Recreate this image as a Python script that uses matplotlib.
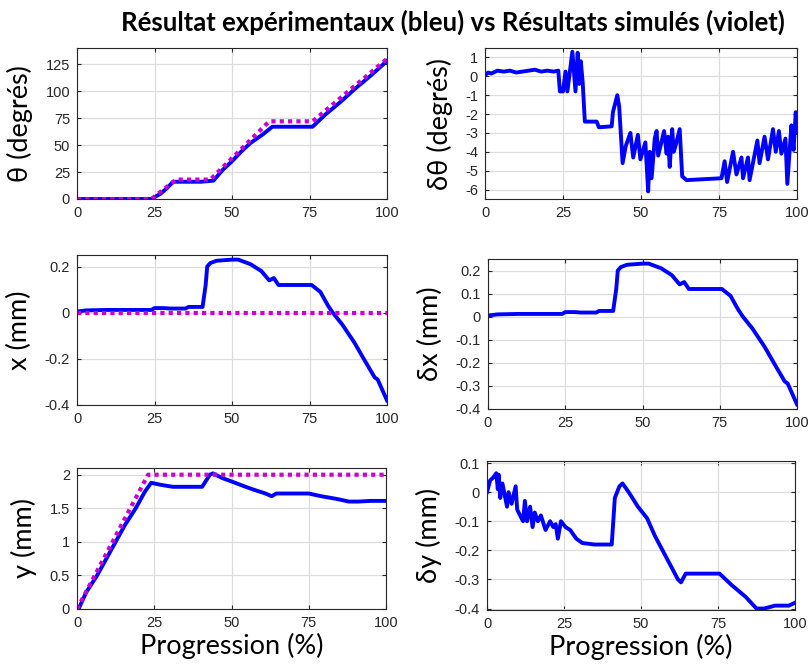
import matplotlib.pyplot as plt

W, H = 809, 666

# --- data ------------------------------------------------------------------
theta_sim_x = [0, 24, 32, 43, 62, 76, 100]
theta_sim_y = [0, 0, 18, 18, 72, 72, 130]
theta_exp_x = [0, 24, 27, 29, 31, 40, 44, 47, 50, 53, 56, 60, 63, 76, 80, 85, 90, 95, 100]
theta_exp_y = [0, 0, 5, 10, 16, 16, 17, 27, 35, 44, 52, 60, 67, 67, 78, 90, 103, 115, 128]

dtheta_x = [0, 1, 2, 4, 6, 8, 10, 12, 14, 16, 18, 20, 22, 23.5, 24, 25, 25.8, 26.4, 28,
            29, 29.7, 30.2, 30.7, 31.3, 32, 35.8, 36.5, 40.6, 41, 42.4, 43, 44.1, 45.1,
            46.6, 47.5, 49, 49.8, 51.4, 52.3, 52.8, 53.4, 54.4, 55, 55.5, 57.4, 58.2,
            58.7, 59.2, 60, 60.5, 61.2, 62.4, 63.2, 64.6, 75.8, 76.8, 77.6, 79.5, 80.6,
            82.2, 82.7, 84.3, 84.8, 87.3, 88, 89.6, 90.7, 92.3, 93.2, 94.2, 95, 96.3,
            96.9, 98.2, 98.9, 99.6, 100]
dtheta_y = [0.05, 0.2, 0.15, 0.3, 0.25, 0.3, 0.2, 0.25, 0.3, 0.35, 0.25, 0.3, 0.25, 0.3,
            -0.8, -0.8, 0.25, -0.8, 1.3, -0.8, 1.25, -0.4, 0.8, -0.3, -2.4, -2.4, -2.7,
            -2.65, -1.9, -1.0, -1.6, -4.6, -3.7, -3.0, -4.3, -3.1, -4.4, -3.5, -6.1, -4.0,
            -5.4, -3.3, -2.9, -4.2, -2.9, -4.1, -3.2, -4.8, -2.8, -4.0, -3.6, -2.8, -5.3,
            -5.5, -5.4, -4.5, -5.6, -4.0, -5.2, -4.3, -5.4, -4.3, -5.5, -3.4, -4.6, -3.2,
            -4.4, -2.8, -4.0, -2.9, -4.1, -3.3, -5.7, -2.6, -3.9, -1.9, -3.0]

x_sim_x = [0, 100]
x_sim_y = [0, 0]
x_exp_x = [0, 3, 10, 24, 25, 28, 30, 35, 36, 40.5, 41.5, 42, 43, 45, 50, 52, 56, 59.5, 62,
           63.5, 65, 75.7, 78.5, 81, 82.5, 85.5, 89.5, 92.5, 96, 97, 99, 100]
x_exp_y = [0.005, 0.01, 0.012, 0.012, 0.02, 0.02, 0.018, 0.018, 0.025, 0.025, 0.12, 0.2,
           0.215, 0.225, 0.23, 0.23, 0.21, 0.18, 0.14, 0.15, 0.12, 0.12, 0.09, 0.03, 0.0,
           -0.05, -0.13, -0.2, -0.28, -0.29, -0.35, -0.38]

y_sim_x = [0, 23, 100]
y_sim_y = [0, 2, 2]
y_exp_x = [0.5, 3, 6.5, 9.5, 12.5, 15.5, 19, 22, 24, 27, 31, 40.5, 43, 44, 47, 50, 54, 57,
           61, 63, 64.5, 75, 79, 84, 88, 91, 95, 100]
y_exp_y = [0, 0.25, 0.5, 0.75, 1.0, 1.25, 1.5, 1.75, 1.88, 1.85, 1.82, 1.82, 2.0, 2.02,
           1.95, 1.9, 1.83, 1.78, 1.72, 1.68, 1.72, 1.72, 1.68, 1.64, 1.6, 1.6, 1.61, 1.61]

dy_x = [0, 1, 2, 3, 3.5, 3.8, 4.3, 5, 6.5, 7, 8, 9.3, 9.8, 11.7, 12.3, 13, 14, 14.8, 15.5,
        16.5, 17.5, 19, 20.5, 21.5, 22.3, 23, 24, 25.5, 27, 29, 31, 35, 40.5, 41.5, 43,
        44, 46, 49, 52, 54.5, 57, 59.5, 62, 63, 64.5, 75.5, 79.5, 84, 87.5, 90, 93.5, 98,
        100]
dy_y = [0, 0.04, 0.05, 0.065, 0.01, 0.06, -0.02, 0.03, -0.05, 0.0, -0.04, 0.02, -0.06,
        -0.1, -0.03, -0.1, -0.05, -0.12, -0.07, -0.1, -0.08, -0.13, -0.1, -0.12, -0.11,
        -0.16, -0.1, -0.12, -0.13, -0.16, -0.175, -0.18, -0.18, -0.02, 0.02, 0.03, 0.0,
        -0.05, -0.09, -0.15, -0.2, -0.25, -0.3, -0.31, -0.28, -0.28, -0.32, -0.36, -0.4,
        -0.4, -0.39, -0.39, -0.38]

BLUE = "#0000ff"
MAGENTA = "#cc00cc"
LABEL_FONT = "Lato"
TICK_FONT = "Liberation Sans"

fig = plt.figure(figsize=(W / 100, H / 100), dpi=100)


def make_axes(l, t, r, b):
    return fig.add_axes([l / W, (H - b) / H, (r - l) / W, (b - t) / H])


def style(ax, ylabel, ylim, yticks, ytlabels=None, xlabel=None):
    ax.set_xlim(0, 100)
    ax.set_ylim(*ylim)
    ax.set_xticks([0, 25, 50, 75, 100])
    ax.set_yticks(yticks)
    if ytlabels is not None:
        ax.set_yticklabels(ytlabels)
    ax.grid(True, color="#dcdcdc", linewidth=0.9)
    ax.set_axisbelow(True)
    ax.tick_params(direction="in", length=3, width=0.8, colors="#262626",
                   labelsize=10.5, top=True, right=True, pad=5)
    for lab in ax.get_xticklabels() + ax.get_yticklabels():
        lab.set_family(TICK_FONT)
    for s in ax.spines.values():
        s.set_color("#262626")
        s.set_linewidth(0.8)
    ax.set_ylabel(ylabel, fontsize=19.5, family=LABEL_FONT, labelpad=9)
    if xlabel:
        ax.set_xlabel(xlabel, fontsize=19.5, family=LABEL_FONT, labelpad=2)


lw_exp = 2.8
lw_sim = 3.0
dots = (0, (1, 1))

ax1 = make_axes(77, 48, 387, 199)
ax1.plot(theta_exp_x, theta_exp_y, color=BLUE, lw=lw_exp)
ax1.plot(theta_sim_x, theta_sim_y, color=MAGENTA, lw=lw_sim, ls=dots)
style(ax1, "θ (degrés)", (0, 140), [0, 25, 50, 75, 100, 125])

ax2 = make_axes(485, 48, 797, 199)
ax2.plot(dtheta_x, dtheta_y, color=BLUE, lw=lw_exp)
style(ax2, "δθ (degrés)", (-6.5, 1.5), [-6, -5, -4, -3, -2, -1, 0, 1],
      ["-6", "-5", "-4", "-3", "-2", "-1", "0", "1"])

ax3 = make_axes(77, 255, 387, 405)
ax3.plot(x_exp_x, x_exp_y, color=BLUE, lw=lw_exp)
ax3.plot(x_sim_x, x_sim_y, color=MAGENTA, lw=lw_sim, ls=dots)
style(ax3, "x (mm)", (-0.4, 0.25), [-0.4, -0.2, 0, 0.2], ["-0.4", "-0.2", "0", "0.2"])

ax4 = make_axes(488, 259, 797, 409)
ax4.plot(x_exp_x, x_exp_y, color=BLUE, lw=lw_exp)
style(ax4, "δx (mm)", (-0.4, 0.25), [-0.4, -0.3, -0.2, -0.1, 0, 0.1, 0.2],
      ["-0.4", "-0.3", "-0.2", "-0.1", "0", "0.1", "0.2"])

ax5 = make_axes(77, 468, 386, 609)
ax5.plot(y_exp_x, y_exp_y, color=BLUE, lw=lw_exp)
ax5.plot(y_sim_x, y_sim_y, color=MAGENTA, lw=lw_sim, ls=dots)
style(ax5, "y (mm)", (0, 2.1), [0, 0.5, 1, 1.5, 2], ["0", "0.5", "1", "1.5", "2"],
      xlabel="Progression (%)")

ax6 = make_axes(487, 461, 795, 610)
ax6.plot(dy_x, dy_y, color=BLUE, lw=lw_exp)
style(ax6, "δy (mm)", (-0.405, 0.107), [-0.4, -0.3, -0.2, -0.1, 0, 0.1],
      ["-0.4", "-0.3", "-0.2", "-0.1", "0", "0.1"], xlabel="Progression (%)")

fig.text(0.5 + 48 / W, 1 - 22 / H, "Résultat expérimentaux (bleu) vs Résultats simulés (violet)",
         ha="center", va="center", fontsize=18.5, fontweight="bold", family=LABEL_FONT)

fig.savefig("out.png", dpi=100)
